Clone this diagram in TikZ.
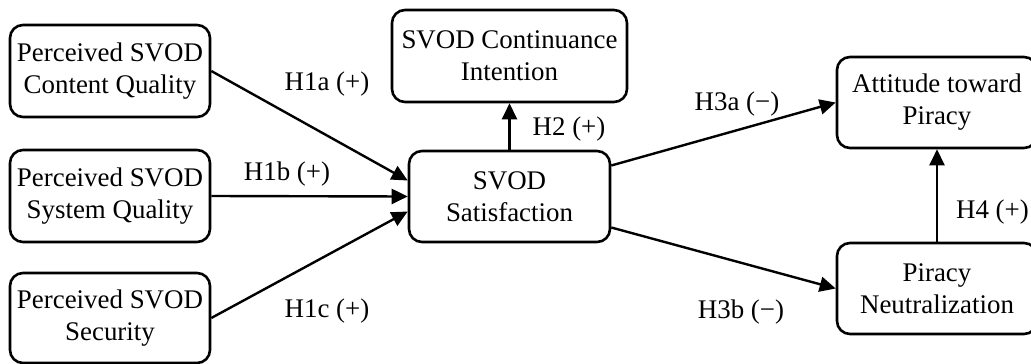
\documentclass[tikz,border=0pt]{standalone}
\usepackage{fontspec}
\setmainfont{Liberation Serif}
\usetikzlibrary{arrows.meta}
\begin{document}
\begin{tikzpicture}[x=1pt,y=-1pt,
  font=\fontsize{26.9}{32}\selectfont,
  box/.style={draw, line width=2.6pt, rounded corners=13pt, align=center, inner sep=0pt},
  conn/.style={line width=2.4pt, -{Triangle[length=16pt,width=15pt]}},
  lab/.style={anchor=base, inner sep=0pt}]
\useasboundingbox (0,0) rectangle (1031,364);
\node[box, minimum width=200pt, minimum height=92pt] (cq) at (110,71) {Perceived SVOD\\Content Quality};
\node[box, minimum width=200pt, minimum height=92pt] (sq) at (110,196) {Perceived SVOD\\System Quality};
\node[box, minimum width=200pt, minimum height=90pt] (sec) at (110,318) {Perceived SVOD\\Security};
\node[box, minimum width=201pt, minimum height=91pt] (sat) at (509.5,196.5) {SVOD\\Satisfaction};
\node[box, minimum width=235pt, minimum height=92pt] (ci) at (509.5,56) {SVOD Continuance\\Intention};
\node[box, minimum width=200pt, minimum height=91pt] (att) at (937,102.5) {Attitude toward\\Piracy};
\node[box, minimum width=200pt, minimum height=91pt] (pn) at (937,288.5) {Piracy\\Neutralization};

\draw[conn] (cq.east) -- ([yshift=16pt]sat.west);
\draw[conn] (sq.east) -- (sat.west);
\draw[conn] (sec.east) -- ([yshift=-15pt]sat.west);
\draw[conn] (sat.north) -- (ci.south);
\draw[conn] ([yshift=31pt]sat.east) -- (att.west);
\draw[conn] ([yshift=-31pt]sat.east) -- (pn.west);
\draw[conn] (pn.north) -- (att.south);

\node[lab] (l1a) at (327,90) {H1a (+)};
\node[lab] (l1b) at (287,180) {H1b (+)};
\node[lab] (l1c) at (327,317) {H1c (+)};
\node[lab] (l2) at (569,135) {H2 (+)};
\node[lab] (l3a) at (737,110) {H3a (−)};
\node[lab] (l3b) at (741,318) {H3b (−)};
\node[lab, anchor=base east] (l4) at (1029,218) {H4 (+)};
\end{tikzpicture}
\end{document}
